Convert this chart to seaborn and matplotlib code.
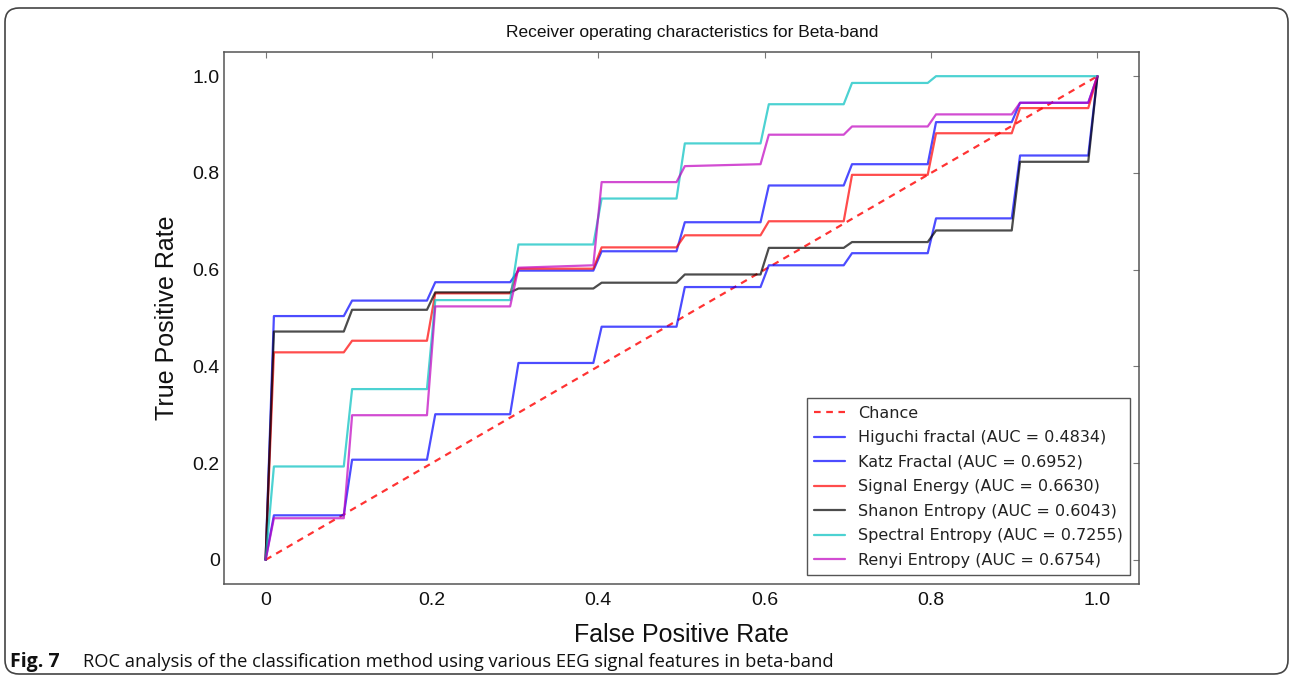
import matplotlib
matplotlib.use("Agg")
import matplotlib.pyplot as plt
from matplotlib.patches import FancyBboxPatch
from matplotlib.transforms import IdentityTransform
from matplotlib.ticker import FixedLocator, FixedFormatter
import seaborn as sns
import pandas as pd

# False positive rates shared by every ROC curve
fpr = [0.0, 0.010, 0.094, 0.104, 0.194, 0.204, 0.294, 0.304, 0.394, 0.404,
       0.494, 0.504, 0.595, 0.605, 0.695, 0.705, 0.796, 0.806, 0.897, 0.907,
       0.989, 1.0]

# True positive rates per feature
tpr_higuchi = [0.0, 0.092, 0.092, 0.207, 0.207, 0.301, 0.301, 0.407, 0.407, 0.482,
               0.482, 0.564, 0.564, 0.609, 0.609, 0.634, 0.634, 0.706, 0.706, 0.836,
               0.836, 1.0]
tpr_katz = [0.0, 0.504, 0.504, 0.536, 0.536, 0.574, 0.574, 0.598, 0.598, 0.638,
            0.638, 0.698, 0.698, 0.774, 0.774, 0.818, 0.818, 0.905, 0.905, 0.945,
            0.945, 1.0]
tpr_energy = [0.0, 0.429, 0.429, 0.453, 0.453, 0.551, 0.551, 0.602, 0.602, 0.646,
              0.646, 0.671, 0.671, 0.700, 0.700, 0.796, 0.796, 0.882, 0.882, 0.934,
              0.934, 1.0]
tpr_shanon = [0.0, 0.472, 0.472, 0.517, 0.517, 0.553, 0.553, 0.561, 0.561, 0.573,
              0.573, 0.590, 0.590, 0.645, 0.645, 0.657, 0.657, 0.681, 0.681, 0.823,
              0.823, 1.0]
tpr_spectral = [0.0, 0.193, 0.193, 0.353, 0.353, 0.537, 0.537, 0.652, 0.652, 0.747,
                0.747, 0.861, 0.861, 0.942, 0.942, 0.986, 0.986, 1.0, 1.0, 1.0,
                1.0, 1.0]
tpr_renyi = [0.0, 0.086, 0.086, 0.299, 0.299, 0.524, 0.524, 0.604, 0.609, 0.781,
             0.781, 0.814, 0.818, 0.879, 0.879, 0.896, 0.896, 0.921, 0.921, 0.945,
             0.945, 1.0]

feature_names = ["Higuchi fractal", "Katz Fractal", "Signal Energy",
                 "Shanon Entropy", "Spectral Entropy", "Renyi Entropy"]
auc_values = [0.4834, 0.6952, 0.6630, 0.6043, 0.7255, 0.6754]
feature_tprs = [tpr_higuchi, tpr_katz, tpr_energy, tpr_shanon, tpr_spectral, tpr_renyi]
feature_colors = ["#0000ff", "#0000ff", "#ff0000", "#000000", "#00bfbf", "#bf00bf"]

chance_x = [0.0, 1.0]
chance_y = [0.0, 1.0]

tick_values = [0.0, 0.2, 0.4, 0.6, 0.8, 1.0]
tick_labels = ["0", "0.2", "0.4", "0.6", "0.8", "1.0"]

sns.set_theme(style="white")
plt.rcParams["font.family"] = ["Liberation Sans", "DejaVu Sans"]

fig = plt.figure(figsize=(12.9, 6.77), dpi=100)
ax = fig.add_axes([224 / 1290, 93 / 677, (1139 - 224) / 1290, (584 - 52) / 677])

sns.lineplot(x=chance_x, y=chance_y, ax=ax, color="#ff0000", alpha=0.8,
             linewidth=1.6, linestyle=(0, (3, 2.5)), label="Chance")

for name, auc, tpr, col in zip(feature_names, auc_values, feature_tprs, feature_colors):
    df = pd.DataFrame({"fpr": fpr, "tpr": tpr})
    sns.lineplot(data=df, x="fpr", y="tpr", ax=ax, sort=False, estimator=None,
                 color=col, alpha=0.7, linewidth=1.6,
                 label=f"{name} (AUC = {auc:.4f})")

ax.set_xlim(-0.05, 1.05)
ax.set_ylim(-0.05, 1.05)
for axis in (ax.xaxis, ax.yaxis):
    axis.set_major_locator(FixedLocator(tick_values))
    axis.set_major_formatter(FixedFormatter(tick_labels))

for spine in ax.spines.values():
    spine.set_color("#555555")
    spine.set_linewidth(1.1)

ax.tick_params(axis="both", which="major", direction="in", top=True, right=True,
               length=4, width=0.8, color="#777777", labelsize=14,
               labelcolor="#111111")
ax.tick_params(axis="x", pad=6)
ax.tick_params(axis="y", pad=3)

ax.set_xlabel("False Positive Rate", fontsize=18, labelpad=10, color="#111111")
ax.set_ylabel("True Positive Rate", fontsize=18, labelpad=10, color="#111111")
ax.set_title("Receiver operating characteristics for Beta-band", fontsize=12.5,
             pad=11, x=0.512, color="#111111")

leg = ax.legend(loc="lower right", prop={"family": "DejaVu Sans", "size": 11.5},
                frameon=True, fancybox=False, labelspacing=0.6, handlelength=1.9,
                handletextpad=0.85, borderpad=0.45, borderaxespad=0.55)
leg.get_frame().set_edgecolor("#555555")
leg.get_frame().set_linewidth(1.0)
leg.get_frame().set_alpha(1.0)
for txt in leg.get_texts():
    txt.set_color("#222222")

# rounded outline around the whole panel
border = FancyBboxPatch((5, 3), 1283, 666,
                        boxstyle="round,pad=0,rounding_size=14",
                        transform=IdentityTransform(), fill=False,
                        edgecolor="#444444", linewidth=1.2)
fig.add_artist(border)

fig.text(10 / 1290, 10 / 677, "Fig. 7", fontsize=14, fontweight="bold",
         family="Open Sans", color="#111111", va="baseline")
fig.text(83 / 1290, 10 / 677,
         "ROC analysis of the classification method using various EEG signal features in beta-band",
         fontsize=13.2, family="Open Sans", color="#111111", va="baseline")

fig.savefig("out.png", dpi=100)
